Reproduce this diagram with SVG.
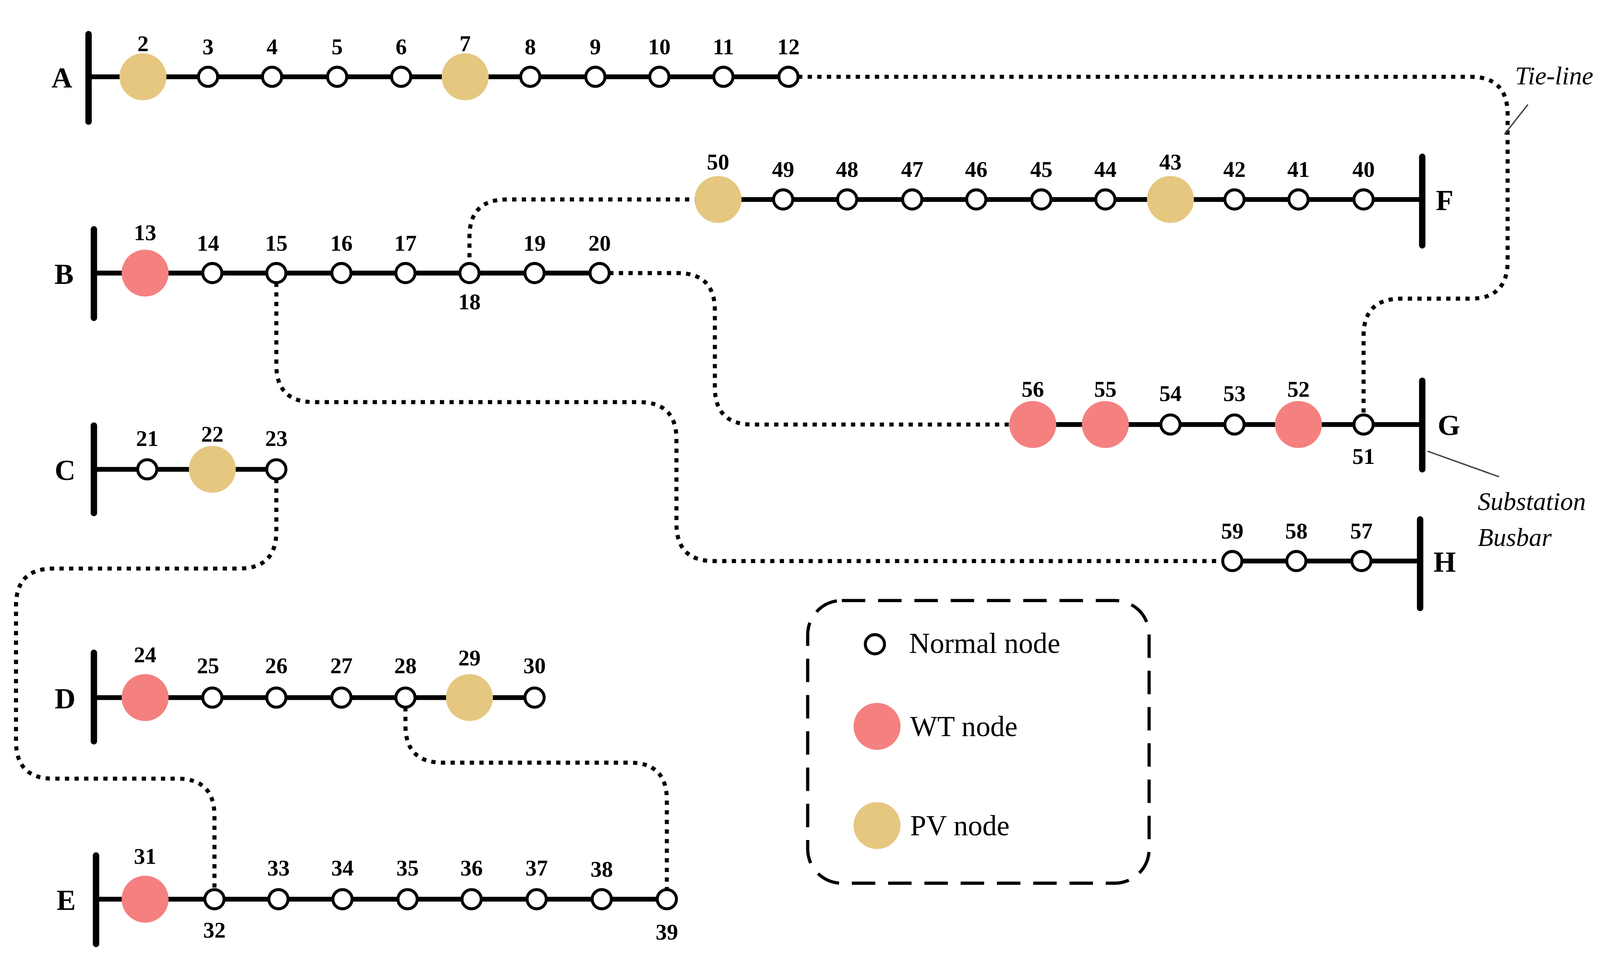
<svg xmlns="http://www.w3.org/2000/svg" width="4261" height="2466" viewBox="0 0 4261 2466">
<defs>
<style>
.bus{stroke:#000;stroke-width:6;stroke-linecap:round}
.ln{stroke:#000;stroke-width:4.5;fill:none}
.tie{stroke:#000;stroke-width:3.8;fill:none;stroke-dasharray:4 5}
.n{fill:#fff;stroke:#000;stroke-width:2.8}
.wt{fill:#F58080}
.pv{fill:#E5C77F}
.num{font-family:"Liberation Serif",serif;font-weight:bold;font-size:21px;text-anchor:middle}
.let{font-family:"Liberation Serif",serif;font-weight:bold;font-size:27px;text-anchor:middle}
.it{font-family:"Liberation Serif",serif;font-style:italic;font-size:24px}
.lg{font-family:"Liberation Serif",serif;font-size:27px}
</style>
</defs>
<rect width="4261" height="2466" fill="#fff"/>
<g transform="scale(2.7314)">
<g id="connectors">
<line class="ln" x1="83" y1="72" x2="739" y2="72"/>
<line class="ln" x1="673" y1="187" x2="1333" y2="187"/>
<line class="ln" x1="88" y1="256" x2="562" y2="256"/>
<line class="ln" x1="968" y1="398" x2="1333" y2="398"/>
<line class="ln" x1="1155" y1="526" x2="1331" y2="526"/>
<line class="ln" x1="88" y1="440" x2="259" y2="440"/>
<line class="ln" x1="88" y1="654" x2="501" y2="654"/>
<line class="ln" x1="90" y1="843" x2="625" y2="843"/>
<path class="tie" d="M748 72 H1378 Q1413 72 1413 107 V245 Q1413 280 1378 280 H1313 Q1278 280 1278 315 V389"/>
<path class="tie" d="M664 187 H475 Q440 187 440 222 V247"/>
<path class="tie" d="M571 256 H635 Q670 256 670 291 V363 Q670 398 705 398 H946"/>
<path class="tie" d="M259 265 V342 Q259 377 294 377 H599 Q634 377 634 412 V491 Q634 526 669 526 H1146"/>
<path class="tie" d="M259 449 V498 Q259 533 224 533 H50 Q15 533 15 568 V695 Q15 730 50 730 H166 Q201 730 201 765 V834"/>
<path class="tie" d="M380 663 V680 Q380 715 415 715 H590 Q625 715 625 750 V834"/>
<line x1="1410" y1="126" x2="1432" y2="98" stroke="#444" stroke-width="1.3"/>
<line x1="1338" y1="423" x2="1405" y2="447" stroke="#444" stroke-width="1.3"/>
</g>
<g id="bus-A"><line class="bus" x1="83" y1="32" x2="83" y2="114"/><text class="let" x="58" y="82">A</text></g>
<g id="bus-B"><line class="bus" x1="88" y1="215" x2="88" y2="298"/><text class="let" x="60" y="266">B</text></g>
<g id="bus-C"><line class="bus" x1="88" y1="399" x2="88" y2="481"/><text class="let" x="61" y="450">C</text></g>
<g id="bus-D"><line class="bus" x1="88" y1="612" x2="88" y2="695"/><text class="let" x="61" y="664">D</text></g>
<g id="bus-E"><line class="bus" x1="90" y1="802" x2="90" y2="885"/><text class="let" x="62" y="853">E</text></g>
<g id="bus-F"><line class="bus" x1="1333" y1="147" x2="1333" y2="230"/><text class="let" x="1354" y="197">F</text></g>
<g id="bus-G"><line class="bus" x1="1333" y1="357" x2="1333" y2="440"/><text class="let" x="1358" y="408">G</text></g>
<g id="bus-H"><line class="bus" x1="1331" y1="487" x2="1331" y2="570"/><text class="let" x="1354" y="536">H</text></g>
<g id="nodes">
<g id="n2"><circle class="pv" cx="134" cy="72" r="22"/><text class="num" x="134" y="48">2</text></g>
<g id="n3"><circle class="n" cx="195" cy="72" r="9"/><text class="num" x="195" y="51">3</text></g>
<g id="n4"><circle class="n" cx="255" cy="72" r="9"/><text class="num" x="255" y="51">4</text></g>
<g id="n5"><circle class="n" cx="316" cy="72" r="9"/><text class="num" x="316" y="51">5</text></g>
<g id="n6"><circle class="n" cx="376" cy="72" r="9"/><text class="num" x="376" y="51">6</text></g>
<g id="n7"><circle class="pv" cx="436" cy="72" r="22"/><text class="num" x="436" y="48">7</text></g>
<g id="n8"><circle class="n" cx="497" cy="72" r="9"/><text class="num" x="497" y="51">8</text></g>
<g id="n9"><circle class="n" cx="558" cy="72" r="9"/><text class="num" x="558" y="51">9</text></g>
<g id="n10"><circle class="n" cx="618" cy="72" r="9"/><text class="num" x="618" y="51">10</text></g>
<g id="n11"><circle class="n" cx="678" cy="72" r="9"/><text class="num" x="678" y="51">11</text></g>
<g id="n12"><circle class="n" cx="739" cy="72" r="9"/><text class="num" x="739" y="51">12</text></g>
<g id="n50"><circle class="pv" cx="673" cy="187" r="22"/><text class="num" x="673" y="159">50</text></g>
<g id="n49"><circle class="n" cx="734" cy="187" r="9"/><text class="num" x="734" y="166">49</text></g>
<g id="n48"><circle class="n" cx="794" cy="187" r="9"/><text class="num" x="794" y="166">48</text></g>
<g id="n47"><circle class="n" cx="855" cy="187" r="9"/><text class="num" x="855" y="166">47</text></g>
<g id="n46"><circle class="n" cx="915" cy="187" r="9"/><text class="num" x="915" y="166">46</text></g>
<g id="n45"><circle class="n" cx="976" cy="187" r="9"/><text class="num" x="976" y="166">45</text></g>
<g id="n44"><circle class="n" cx="1036" cy="187" r="9"/><text class="num" x="1036" y="166">44</text></g>
<g id="n43"><circle class="pv" cx="1097" cy="187" r="22"/><text class="num" x="1097" y="159">43</text></g>
<g id="n42"><circle class="n" cx="1157" cy="187" r="9"/><text class="num" x="1157" y="166">42</text></g>
<g id="n41"><circle class="n" cx="1217" cy="187" r="9"/><text class="num" x="1217" y="166">41</text></g>
<g id="n40"><circle class="n" cx="1278" cy="187" r="9"/><text class="num" x="1278" y="166">40</text></g>
<g id="n13"><circle class="wt" cx="136" cy="256" r="22"/><text class="num" x="136" y="225">13</text></g>
<g id="n14"><circle class="n" cx="199" cy="256" r="9"/><text class="num" x="195" y="235">14</text></g>
<g id="n15"><circle class="n" cx="259" cy="256" r="9"/><text class="num" x="259" y="235">15</text></g>
<g id="n16"><circle class="n" cx="320" cy="256" r="9"/><text class="num" x="320" y="235">16</text></g>
<g id="n17"><circle class="n" cx="380" cy="256" r="9"/><text class="num" x="380" y="235">17</text></g>
<g id="n18"><circle class="n" cx="440" cy="256" r="9"/><text class="num" x="440" y="290">18</text></g>
<g id="n19"><circle class="n" cx="501" cy="256" r="9"/><text class="num" x="501" y="235">19</text></g>
<g id="n20"><circle class="n" cx="562" cy="256" r="9"/><text class="num" x="562" y="235">20</text></g>
<g id="n56"><circle class="wt" cx="968" cy="398" r="22"/><text class="num" x="968" y="372">56</text></g>
<g id="n55"><circle class="wt" cx="1036" cy="398" r="22"/><text class="num" x="1036" y="372">55</text></g>
<g id="n54"><circle class="n" cx="1097" cy="398" r="9"/><text class="num" x="1097" y="376">54</text></g>
<g id="n53"><circle class="n" cx="1157" cy="398" r="9"/><text class="num" x="1157" y="376">53</text></g>
<g id="n52"><circle class="wt" cx="1217" cy="398" r="22"/><text class="num" x="1217" y="372">52</text></g>
<g id="n51"><circle class="n" cx="1278" cy="398" r="9"/><text class="num" x="1278" y="435">51</text></g>
<g id="n59"><circle class="n" cx="1155" cy="526" r="9"/><text class="num" x="1155" y="505">59</text></g>
<g id="n58"><circle class="n" cx="1215" cy="526" r="9"/><text class="num" x="1215" y="505">58</text></g>
<g id="n57"><circle class="n" cx="1276" cy="526" r="9"/><text class="num" x="1276" y="505">57</text></g>
<g id="n21"><circle class="n" cx="138" cy="440" r="9"/><text class="num" x="138" y="418">21</text></g>
<g id="n22"><circle class="pv" cx="199" cy="440" r="22"/><text class="num" x="199" y="414">22</text></g>
<g id="n23"><circle class="n" cx="259" cy="440" r="9"/><text class="num" x="259" y="418">23</text></g>
<g id="n24"><circle class="wt" cx="136" cy="654" r="22"/><text class="num" x="136" y="621">24</text></g>
<g id="n25"><circle class="n" cx="199" cy="654" r="9"/><text class="num" x="195" y="631">25</text></g>
<g id="n26"><circle class="n" cx="259" cy="654" r="9"/><text class="num" x="259" y="631">26</text></g>
<g id="n27"><circle class="n" cx="320" cy="654" r="9"/><text class="num" x="320" y="631">27</text></g>
<g id="n28"><circle class="n" cx="380" cy="654" r="9"/><text class="num" x="380" y="631">28</text></g>
<g id="n29"><circle class="pv" cx="440" cy="654" r="22"/><text class="num" x="440" y="624">29</text></g>
<g id="n30"><circle class="n" cx="501" cy="654" r="9"/><text class="num" x="501" y="631">30</text></g>
<g id="n31"><circle class="wt" cx="136" cy="843" r="22"/><text class="num" x="136" y="810">31</text></g>
<g id="n32"><circle class="n" cx="201" cy="843" r="9"/><text class="num" x="201" y="879">32</text></g>
<g id="n33"><circle class="n" cx="261" cy="843" r="9"/><text class="num" x="261" y="821">33</text></g>
<g id="n34"><circle class="n" cx="321" cy="843" r="9"/><text class="num" x="321" y="821">34</text></g>
<g id="n35"><circle class="n" cx="382" cy="843" r="9"/><text class="num" x="382" y="821">35</text></g>
<g id="n36"><circle class="n" cx="442" cy="843" r="9"/><text class="num" x="442" y="821">36</text></g>
<g id="n37"><circle class="n" cx="503" cy="843" r="9"/><text class="num" x="503" y="821">37</text></g>
<g id="n38"><circle class="n" cx="564" cy="843" r="9"/><text class="num" x="564" y="822">38</text></g>
<g id="n39"><circle class="n" cx="625" cy="843" r="9"/><text class="num" x="625" y="881">39</text></g>
</g>
<g id="annotations">
<text class="it" x="1420" y="79">Tie-line</text>
<text class="it" x="1385" y="478">Substation</text>
<text class="it" x="1385" y="512">Busbar</text>
</g>
<g id="legend">
<rect x="757" y="563" width="320" height="265" rx="32" fill="none" stroke="#000" stroke-width="3" stroke-dasharray="22 12"/>
<circle class="n" cx="820" cy="604" r="9"/><text class="lg" x="852" y="612">Normal node</text>
<circle class="wt" cx="822" cy="681" r="22"/><text class="lg" x="853" y="690">WT node</text>
<circle class="pv" cx="822" cy="774" r="22"/><text class="lg" x="853" y="783">PV node</text>
</g>
</g>
</svg>
